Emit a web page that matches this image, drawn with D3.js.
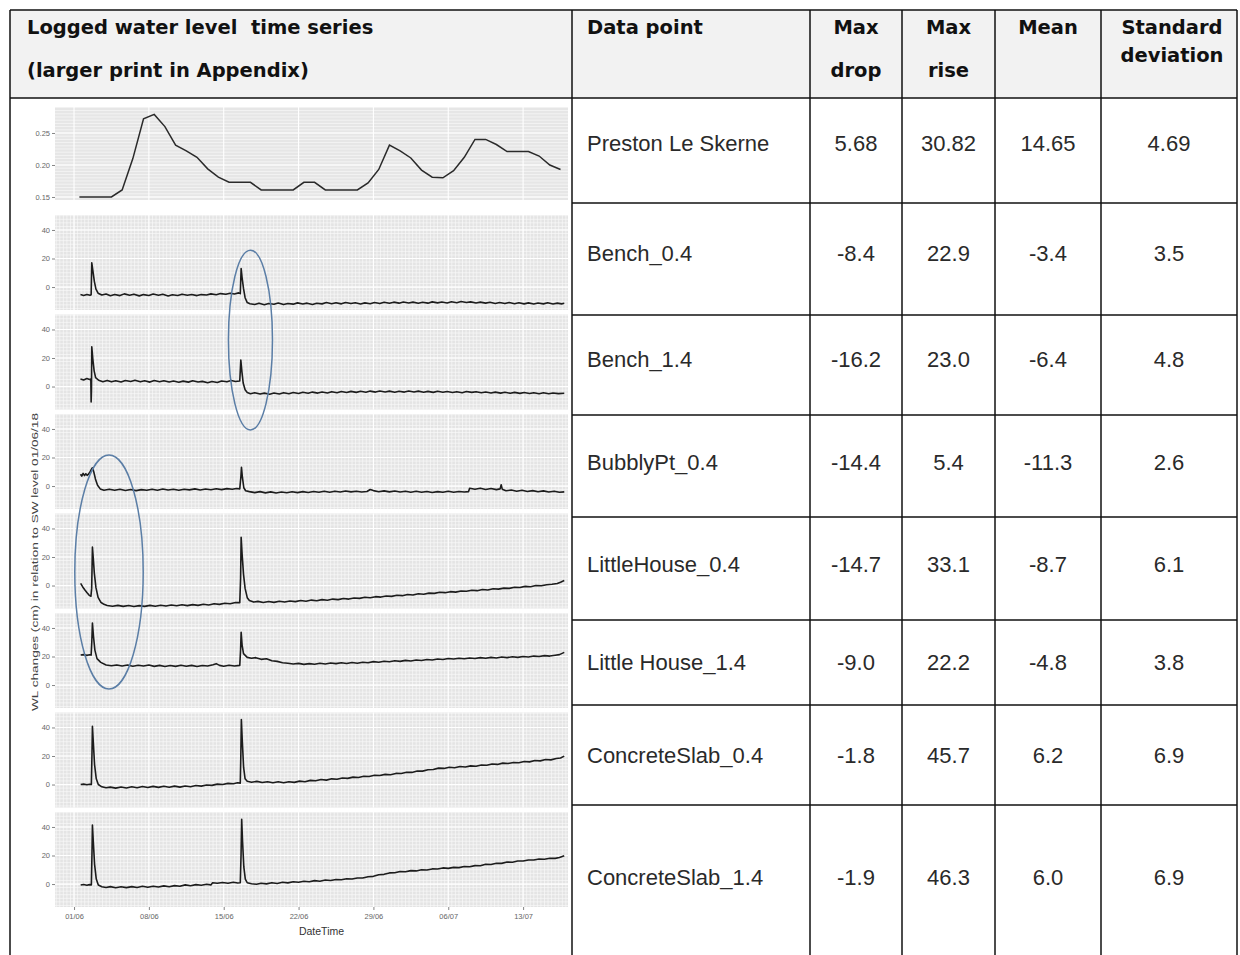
<!DOCTYPE html>
<html>
<head>
<meta charset="utf-8">
<script src="https://cdn.jsdelivr.net/npm/d3@7"></script>
<style>
  body { margin: 0; background: #fff; }
  svg { display: block; }
  text { white-space: pre; }
</style>
</head>
<body>
<svg id="fig" width="1240" height="955"></svg>
<script>
// ---------------- Table content ----------------
const headerLeft = ["Logged water level  time series", "(larger print in Appendix)"];
const headerCols = [["Data point"], ["Max", "drop"], ["Max", "rise"], ["Mean"], ["Standard", "deviation"]];
const siteNames = ["Preston Le Skerne", "Bench_0.4", "Bench_1.4", "BubblyPt_0.4",
                   "LittleHouse_0.4", "Little House_1.4", "ConcreteSlab_0.4", "ConcreteSlab_1.4"];
const maxDrop  = [5.68, -8.4, -16.2, -14.4, -14.7, -9.0, -1.8, -1.9];
const maxRise  = [30.82, 22.9, 23.0, 5.4, 33.1, 22.2, 45.7, 46.3];
const meanVal  = [14.65, -3.4, -6.4, -11.3, -8.7, -4.8, 6.2, 6.0];
const stdDev   = [4.69, 3.5, 4.8, 2.6, 6.1, 3.8, 6.9, 6.9];
const decimals = [2, 1, 1, 1, 1, 1, 1, 1];

// ---------------- Time series (x = days since 01/06) ----------------
const dateLabels = ["01/06", "08/06", "15/06", "22/06", "29/06", "06/07", "13/07"];
const dateTicks  = [0, 7, 14, 21, 28, 35, 42];

// River stage at Preston le Skerne (m), daily, days 0.5 .. 45.5
const prestonStage = [0.150,0.150,0.150,0.150,0.161,0.210,0.272,0.279,0.260,0.231,0.222,0.212,0.194,0.181,
  0.173,0.173,0.173,0.161,0.161,0.161,0.161,0.173,0.173,0.161,0.161,0.161,0.161,0.172,0.193,0.231,0.222,
  0.211,0.192,0.181,0.180,0.191,0.212,0.240,0.240,0.232,0.221,0.221,0.221,0.214,0.200,0.193];

const bench04 = [[0.6,-5.3],[0.9,-5.9],[1.2,-5.2],[1.5,-5.8],[1.6,-5.4],[1.66,17.0],[1.78,10.5],[1.9,4.0],
  [2.05,-1.5],[2.25,-4.3],[2.6,-5.6],[3.0,-4.9],[3.4,-6.1],[3.8,-5.2],[4.3,-6.0],[4.7,-4.8],[5.2,-5.7],
  [5.6,-5.0],[6.1,-6.2],[6.5,-5.3],[7.0,-5.9],[7.4,-4.9],[7.9,-5.8],[8.3,-5.1],[8.8,-6.3],[9.2,-5.4],
  [9.7,-5.9],[10.1,-5.0],[10.6,-5.7],[11.0,-5.2],[11.5,-6.0],[11.9,-5.3],[12.4,-5.6],[12.8,-4.8],[13.3,-5.4],
  [13.7,-4.6],[14.2,-5.1],[14.6,-4.3],[15.0,-4.9],[15.4,-4.1],[15.55,-4.6],[15.63,13.0],[15.72,6.5],
  [15.85,-1.0],[16.0,-7.5],[16.2,-10.9],[16.45,-11.7],[16.9,-12.2],[17.3,-11.3],[17.8,-12.4],[18.2,-11.6],
  [18.7,-12.1],[19.1,-11.2],[19.6,-12.3],[20.0,-11.5],[20.5,-12.0],[20.9,-11.1],[21.4,-11.9],[21.8,-11.3],
  [22.3,-12.2],[22.7,-11.4],[23.2,-11.8],[23.6,-10.9],[24.1,-11.7],[24.5,-11.0],[25.0,-11.8],[25.4,-10.8],
  [25.9,-11.6],[26.3,-11.0],[26.8,-11.9],[27.2,-11.1],[27.7,-11.7],[28.1,-10.9],[28.6,-11.6],[29.0,-10.7],
  [29.5,-11.4],[29.9,-10.6],[30.4,-11.3],[30.8,-10.5],[31.3,-11.2],[31.7,-10.6],[32.2,-11.4],[32.6,-10.7],
  [33.1,-11.3],[33.5,-10.4],[34.0,-11.1],[34.4,-10.5],[34.9,-11.2],[35.3,-10.3],[35.8,-11.0],[36.2,-10.2],
  [36.7,-10.9],[37.1,-10.4],[37.6,-11.2],[38.0,-10.6],[38.5,-11.3],[38.9,-10.7],[39.4,-11.5],[39.8,-10.9],
  [40.3,-11.6],[40.7,-10.8],[41.2,-11.7],[41.6,-11.0],[42.1,-11.8],[42.5,-11.1],[43.0,-11.9],[43.4,-11.2],
  [43.9,-11.8],[44.3,-11.0],[44.8,-11.9],[45.2,-11.3],[45.6,-11.8],[45.85,-11.4]];

const bench14 = [[0.6,5.3],[0.9,4.6],[1.2,5.6],[1.45,4.9],[1.57,5.2],[1.6,-10.8],[1.63,-3.0],[1.66,27.8],
  [1.76,19.0],[1.88,11.0],[2.02,6.2],[2.3,4.4],[2.7,3.4],[3.1,4.3],[3.5,3.3],[3.9,4.1],[4.4,3.2],[4.8,4.2],
  [5.3,3.5],[5.7,4.4],[6.2,3.3],[6.6,4.0],[7.1,3.1],[7.5,4.2],[8.0,3.4],[8.4,4.1],[8.9,3.2],[9.3,3.9],
  [9.8,3.0],[10.2,3.8],[10.7,3.1],[11.1,4.0],[11.6,3.2],[12.0,3.6],[12.5,2.7],[12.9,3.5],[13.4,2.8],
  [13.8,3.9],[14.3,3.3],[14.7,4.2],[15.1,3.5],[15.5,3.9],[15.6,18.5],[15.7,10.5],[15.82,2.5],[16.0,-2.3],
  [16.2,-4.2],[16.5,-5.0],[16.9,-4.4],[17.4,-5.3],[17.8,-4.6],[18.3,-5.4],[18.7,-4.5],[19.2,-5.2],[19.6,-4.3],
  [20.1,-5.0],[20.5,-4.2],[21.0,-4.9],[21.4,-4.0],[21.9,-4.7],[22.3,-3.9],[22.8,-4.6],[23.2,-3.8],[23.7,-4.5],
  [24.1,-3.6],[24.6,-4.4],[25.0,-3.5],[25.5,-4.2],[25.9,-3.4],[26.4,-4.1],[26.8,-3.3],[27.3,-4.0],[27.7,-3.2],
  [28.2,-3.9],[28.6,-3.1],[29.1,-3.8],[29.5,-3.2],[30.0,-4.0],[30.4,-3.3],[30.9,-3.9],[31.3,-3.1],[31.8,-3.8],
  [32.2,-3.2],[32.7,-4.0],[33.1,-3.4],[33.6,-4.1],[34.0,-3.3],[34.5,-4.0],[34.9,-3.5],[35.4,-4.2],[35.8,-3.6],
  [36.3,-4.3],[36.7,-3.5],[37.2,-4.1],[37.6,-3.6],[38.1,-4.4],[38.5,-3.8],[39.0,-4.5],[39.4,-3.9],[39.9,-4.6],
  [40.3,-4.0],[40.8,-4.7],[41.2,-4.1],[41.7,-4.8],[42.1,-4.2],[42.6,-4.9],[43.0,-4.3],[43.5,-5.0],[43.9,-4.4],
  [44.4,-5.1],[44.8,-4.5],[45.3,-5.0],[45.85,-4.7]];

const bubbly04 = [[0.6,8.2],[0.72,7.0],[0.85,8.9],[0.98,7.3],[1.1,8.6],[1.22,7.5],[1.35,8.4],[1.48,9.6],
  [1.6,11.4],[1.72,12.8],[1.85,9.8],[2.0,5.0],[2.2,0.6],[2.45,-2.0],[2.8,-2.9],[3.3,-2.2],[3.8,-3.0],[4.3,-2.3],
  [4.8,-3.1],[5.3,-2.4],[5.8,-3.2],[6.3,-2.5],[6.8,-3.0],[7.3,-2.2],[7.8,-2.9],[8.3,-2.1],[8.8,-2.8],[9.3,-2.3],
  [9.8,-3.0],[10.3,-2.2],[10.8,-2.7],[11.3,-2.0],[11.8,-2.8],[12.3,-2.1],[12.8,-2.6],[13.3,-1.9],[13.8,-2.5],
  [14.3,-1.8],[14.8,-2.3],[15.2,-1.7],[15.5,-2.0],[15.6,6.0],[15.66,13.1],[15.75,6.0],[15.88,-1.2],[16.05,-3.3],
  [16.4,-3.9],[16.9,-4.6],[17.4,-3.9],[17.9,-4.8],[18.4,-4.1],[18.9,-4.9],[19.4,-4.2],[19.9,-4.7],[20.4,-4.0],
  [20.9,-4.6],[21.4,-3.9],[21.9,-4.5],[22.4,-3.8],[22.9,-4.4],[23.4,-3.7],[23.9,-4.3],[24.4,-3.6],[24.9,-4.2],
  [25.4,-3.5],[25.9,-4.1],[26.4,-3.6],[26.9,-4.2],[27.4,-3.8],[27.7,-2.4],[28.0,-3.2],[28.5,-4.0],[29.0,-3.4],
  [29.5,-4.1],[30.0,-3.5],[30.5,-4.2],[31.0,-3.6],[31.5,-4.3],[32.0,-3.7],[32.5,-4.4],[33.0,-3.8],[33.5,-4.5],
  [34.0,-3.9],[34.5,-4.4],[35.0,-3.7],[35.5,-4.3],[36.0,-3.8],[36.5,-4.2],[36.9,-3.9],[37.0,-1.6],[37.5,-2.3],
  [38.0,-1.5],[38.5,-2.4],[39.0,-1.7],[39.5,-2.5],[39.85,-2.0],[39.95,0.9],[40.05,-2.2],[40.4,-3.3],[40.9,-2.8],
  [41.4,-3.6],[41.9,-3.0],[42.4,-3.8],[42.9,-3.2],[43.4,-4.0],[43.9,-3.4],[44.4,-4.2],[44.9,-3.6],[45.4,-4.4],
  [45.85,-4.1]];

const littleHouse04 = [[0.62,1.5],[0.8,-0.8],[1.0,-3.0],[1.2,-4.9],[1.4,-6.7],[1.58,-7.5],[1.65,-2.0],
  [1.72,26.9],[1.8,19.0],[1.9,8.5],[2.05,-1.5],[2.25,-8.3],[2.5,-11.7],[2.8,-13.2],[3.1,-14.0],[3.6,-14.5],
  [4.1,-13.9],[4.6,-14.6],[5.1,-14.0],[5.6,-14.7],[6.1,-14.1],[6.6,-14.6],[7.1,-13.9],[7.6,-14.5],[8.1,-13.8],
  [8.6,-14.4],[9.1,-13.7],[9.6,-14.2],[10.1,-13.5],[10.6,-14.1],[11.1,-13.4],[11.6,-13.9],[12.1,-13.1],
  [12.6,-13.6],[13.1,-12.8],[13.6,-13.2],[14.1,-12.4],[14.6,-12.8],[15.1,-11.9],[15.5,-12.0],[15.58,5.0],
  [15.63,33.9],[15.72,22.0],[15.85,8.0],[16.0,-2.0],[16.2,-8.5],[16.4,-10.5],[16.8,-11.6],[17.2,-11.1],
  [17.7,-11.9],[18.2,-11.2],[18.7,-11.8],[19.2,-11.0],[19.7,-11.6],[20.2,-10.8],[20.7,-11.3],[21.2,-10.5],
  [21.7,-11.0],[22.2,-10.2],[22.7,-10.7],[23.2,-9.9],[23.7,-10.3],[24.2,-9.5],[24.7,-9.9],[25.2,-9.1],
  [25.7,-9.5],[26.2,-8.7],[26.7,-9.0],[27.2,-8.2],[27.7,-8.6],[28.2,-7.8],[28.7,-8.1],[29.2,-7.3],[29.7,-7.6],
  [30.2,-6.8],[30.7,-7.1],[31.2,-6.3],[31.7,-6.6],[32.2,-5.8],[32.7,-6.1],[33.2,-5.3],[33.7,-5.5],[34.2,-4.7],
  [34.7,-5.0],[35.2,-4.3],[35.7,-4.6],[36.2,-3.8],[36.7,-4.0],[37.2,-3.3],[37.7,-3.6],[38.2,-2.8],[38.7,-3.1],
  [39.2,-2.3],[39.7,-2.5],[40.2,-1.8],[40.7,-2.0],[41.2,-1.2],[41.7,-1.4],[42.2,-0.6],[42.7,-0.8],[43.2,0.0],
  [43.7,-0.2],[44.2,0.6],[44.7,0.9],[45.2,1.4],[45.5,2.3],[45.85,3.5]];

const littleHouse14 = [[0.62,21.0],[0.9,21.3],[1.2,20.8],[1.45,21.2],[1.6,21.0],[1.66,30.0],[1.72,43.5],
  [1.82,34.0],[1.95,24.5],[2.15,18.5],[2.5,15.9],[3.0,14.0],[3.5,13.5],[4.0,14.1],[4.5,13.4],[5.0,14.0],
  [5.5,13.2],[6.0,13.9],[6.5,13.3],[7.0,14.0],[7.5,13.1],[8.0,13.8],[8.5,13.0],[9.0,13.7],[9.5,13.1],
  [10.0,13.9],[10.5,13.2],[11.0,13.8],[11.5,13.0],[12.0,13.7],[12.5,13.3],[13.0,14.2],[13.3,15.0],[13.6,13.8],
  [14.0,13.2],[14.5,13.9],[15.0,13.3],[15.5,13.8],[15.58,25.0],[15.63,37.0],[15.72,28.0],[15.85,22.0],
  [16.2,19.4],[16.6,18.8],[17.0,19.2],[17.5,18.0],[18.0,18.4],[18.5,17.0],[19.0,16.6],[19.5,15.6],[20.0,15.3],
  [20.5,14.7],[21.0,15.2],[21.5,14.5],[22.0,15.0],[22.5,14.6],[23.0,15.3],[23.5,14.8],[24.0,15.5],[24.5,15.0],
  [25.0,15.6],[25.5,15.1],[26.0,15.8],[26.5,15.3],[27.0,16.0],[27.5,15.6],[28.0,16.4],[28.5,16.0],[29.0,16.7],
  [29.5,16.3],[30.0,17.0],[30.5,16.6],[31.0,17.3],[31.5,16.9],[32.0,17.6],[32.5,17.2],[33.0,17.9],[33.5,17.6],
  [34.0,18.3],[34.5,17.9],[35.0,18.6],[35.5,18.2],[36.0,18.8],[36.5,18.4],[37.0,19.0],[37.5,18.6],[38.0,19.2],
  [38.5,18.8],[39.0,19.4],[39.5,19.0],[40.0,19.6],[40.5,19.2],[41.0,19.8],[41.5,19.4],[42.0,20.0],[42.5,19.7],
  [43.0,20.3],[43.5,20.0],[44.0,20.6],[44.5,20.3],[45.0,20.9],[45.4,21.3],[45.85,22.9]];

const concrete04 = [[0.62,0.0],[0.9,0.3],[1.2,-0.2],[1.45,0.2],[1.62,0.0],[1.68,22.0],[1.72,40.9],[1.8,30.0],
  [1.92,14.0],[2.08,4.0],[2.27,0.0],[2.6,-1.6],[3.0,-2.3],[3.4,-1.8],[3.9,-2.5],[4.4,-1.7],[4.9,-2.4],[5.4,-1.6],
  [5.9,-2.2],[6.4,-1.4],[6.9,-2.1],[7.4,-1.3],[7.9,-2.0],[8.4,-1.2],[8.9,-1.9],[9.4,-1.1],[9.9,-1.8],[10.4,-1.0],
  [10.9,-1.5],[11.4,-0.7],[11.9,-1.1],[12.4,-0.3],[12.9,-0.6],[13.4,0.3],[13.9,0.0],[14.4,0.8],[14.9,0.5],
  [15.3,1.2],[15.55,1.0],[15.6,20.0],[15.65,45.6],[15.74,30.0],[15.86,12.0],[16.0,4.0],[16.2,2.3],[16.6,1.6],
  [17.1,2.2],[17.6,1.4],[18.1,2.0],[18.6,1.3],[19.1,1.9],[19.6,1.2],[20.1,2.0],[20.6,1.5],[21.1,2.4],[21.6,2.0],
  [22.1,2.9],[22.6,2.6],[23.1,3.5],[23.6,3.1],[24.1,4.0],[24.6,3.7],[25.1,4.6],[25.6,4.3],[26.1,5.2],[26.6,4.9],
  [27.1,5.8],[27.6,5.6],[28.1,6.5],[28.6,6.3],[29.1,7.1],[29.6,6.9],[30.1,7.8],[30.6,7.7],[31.1,8.6],[31.6,8.5],
  [32.1,9.5],[32.6,9.4],[33.1,10.4],[33.6,10.5],[34.1,11.5],[34.6,11.3],[35.1,12.1],[35.6,11.8],[36.1,12.6],
  [36.6,12.3],[37.1,13.1],[37.6,12.8],[38.1,13.7],[38.6,13.5],[39.1,14.4],[39.6,14.1],[40.1,15.0],[40.6,14.7],
  [41.1,15.5],[41.6,15.3],[42.1,16.1],[42.6,15.9],[43.1,16.8],[43.6,16.6],[44.1,17.5],[44.6,17.3],[45.1,18.3],
  [45.5,18.6],[45.85,19.9]];

const concrete14 = [[0.62,-0.7],[0.9,-0.3],[1.2,-0.9],[1.45,-0.4],[1.62,-0.6],[1.68,22.0],[1.72,41.4],
  [1.8,30.0],[1.92,14.0],[2.08,3.5],[2.27,-0.7],[2.6,-1.9],[3.0,-2.4],[3.4,-1.8],[3.9,-2.6],[4.4,-1.9],[4.9,-2.5],
  [5.4,-1.8],[5.9,-2.4],[6.4,-1.6],[6.9,-2.2],[7.4,-1.5],[7.9,-2.1],[8.4,-1.3],[8.9,-1.9],[9.4,-1.1],[9.9,-1.6],
  [10.4,-0.6],[10.9,-1.2],[11.4,-0.4],[11.9,-0.9],[12.4,-0.2],[12.8,-0.6],[12.96,0.9],[13.4,0.5],[13.9,1.1],
  [14.4,0.6],[14.9,1.2],[15.3,0.7],[15.55,0.9],[15.62,20.0],[15.68,45.4],[15.76,30.0],[15.88,12.0],[16.02,3.5],
  [16.2,0.9],[16.6,0.2],[17.07,-0.2],[17.5,0.6],[18.0,0.1],[18.5,0.9],[19.0,0.4],[19.5,1.2],[20.0,0.8],[20.5,1.6],
  [21.0,1.2],[21.5,2.0],[22.0,1.6],[22.5,2.4],[23.0,2.0],[23.5,2.8],[24.0,2.5],[24.5,3.2],[25.0,3.0],[25.5,3.7],
  [26.0,3.5],[26.5,4.2],[27.0,4.2],[27.5,5.1],[28.0,5.4],[28.5,6.5],[29.0,6.8],[29.5,7.8],[30.0,7.9],[30.5,8.8],
  [31.0,8.6],[31.5,9.4],[32.0,9.2],[32.5,10.0],[33.0,9.8],[33.5,10.6],[34.0,10.5],[34.5,11.3],[35.0,11.0],
  [35.5,11.7],[36.0,11.5],[36.5,12.3],[37.0,12.1],[37.5,12.9],[38.0,12.8],[38.5,13.8],[39.0,13.7],[39.5,14.6],
  [40.0,14.5],[40.5,15.4],[41.0,15.3],[41.5,16.2],[42.0,16.1],[42.5,16.9],[43.0,16.8],[43.5,17.5],[44.0,17.4],
  [44.5,18.1],[45.0,18.0],[45.4,18.6],[45.85,19.8]];

const wellSeries = [bench04, bench14, bubbly04, littleHouse04, littleHouse14, concrete04, concrete14];
const wlTicks = [0, 20, 40];
const stageTicks = [0.15, 0.20, 0.25];

// Hand-drawn ellipses highlighting the two responses (panel index, day, value, radii in days / cm)
const highlights = [
  { panel: 1, day: 16.5, value: 32.6, rDays: 2.06, rCm: 63 },
  { panel: 3, day: 3.27, value: 9.5, rDays: 3.2, rCm: 82 }
];

// ---------------- Layout ----------------
const svg = d3.select("#fig");
const tableL = 10, tableR = 1237, tableT = 10, headB = 98, tableB = 955;
const colX = [572, 810, 902, 995, 1101];
const rowLines = [203, 315, 415, 517, 620, 705, 805];
const rowTextY = [143, 253, 359, 462, 564, 662, 755, 877];

const plotL = 55, plotR = 568;
const x = d3.scaleLinear().domain([-1.78, 46.2]).range([plotL, plotR]);

const tickFont = "Liberation Sans, Arial, sans-serif";

// header background
svg.append("rect").attr("x", tableL).attr("y", tableT)
  .attr("width", tableR - tableL).attr("height", headB - tableT).attr("fill", "#f2f2f2");

// ---------------- Small-multiple plots ----------------
const plots = svg.append("g");

function meshGrid(g, top, bottom, yScale, yStep, yDomain, xStep) {
  const grid = g.append("g").attr("stroke", "#fff").attr("stroke-width", 0.7).attr("opacity", 0.8);
  grid.selectAll("line.h").data(d3.range(Math.ceil(yDomain[0] / yStep) * yStep, yDomain[1], yStep))
    .join("line").attr("x1", plotL).attr("x2", plotR)
    .attr("y1", d => yScale(d)).attr("y2", d => yScale(d));
  if (xStep) {
    grid.selectAll("line.v").data(d3.range(-1.6667, 46.2, xStep))
      .join("line").attr("y1", top).attr("y2", bottom)
      .attr("x1", d => x(d)).attr("x2", d => x(d));
  }
  const major = g.append("g").attr("stroke", "#fff").attr("stroke-width", 1.1);
  major.selectAll("line").data(dateTicks).join("line")
    .attr("y1", top).attr("y2", bottom).attr("x1", d => x(d)).attr("x2", d => x(d));
}

function styleAxis(ax) {
  ax.select(".domain").remove();
  ax.selectAll(".tick line").attr("stroke", "#666").attr("stroke-width", 0.8);
  ax.selectAll(".tick text").attr("fill", "#666").attr("font-size", 7.5).attr("font-family", tickFont);
}

// Top panel: river stage
const stageTop = 107, stageBottom = 200;
const yStage = d3.scaleLinear().domain([0.1453, 0.2906]).range([stageBottom, stageTop]);
const gStage = plots.append("g");
gStage.append("rect").attr("x", plotL).attr("y", stageTop).attr("width", plotR - plotL)
  .attr("height", stageBottom - stageTop).attr("fill", "#e6e6e6");
meshGrid(gStage, stageTop, stageBottom, yStage, 0.005, yStage.domain(), null);
gStage.append("g").attr("stroke", "#fff").attr("stroke-width", 1.2)
  .selectAll("line").data(stageTicks).join("line")
  .attr("x1", plotL).attr("x2", plotR).attr("y1", d => yStage(d)).attr("y2", d => yStage(d));
gStage.append("path")
  .datum(prestonStage.map((v, i) => [i + 0.5, v]))
  .attr("fill", "none").attr("stroke", "#2a2a2a").attr("stroke-width", 1.5)
  .attr("d", d3.line().x(d => x(d[0])).y(d => yStage(d[1])));
styleAxis(gStage.append("g").attr("transform", `translate(${plotL},0)`)
  .call(d3.axisLeft(yStage).tickValues(stageTicks).tickFormat(d3.format(".2f")).tickSize(3).tickPadding(2)));

// Lower panels: logged water level changes
const panelTop0 = 215, panelStep = 99.5, panelH = 95;
const yPanels = wellSeries.map((s, i) => {
  const top = panelTop0 + i * panelStep;
  return d3.scaleLinear().domain([-16.1, 50.5]).range([top + panelH, top]);
});

wellSeries.forEach((series, i) => {
  const top = panelTop0 + i * panelStep, bottom = top + panelH;
  const y = yPanels[i];
  const g = plots.append("g");
  g.append("rect").attr("x", plotL).attr("y", top).attr("width", plotR - plotL)
    .attr("height", panelH).attr("fill", "#e4e4e4");
  meshGrid(g, top, bottom, y, 2.5, y.domain(), 1 / 3);
  g.append("g").attr("stroke", "#fff").attr("stroke-width", 1.2)
    .selectAll("line").data(wlTicks).join("line")
    .attr("x1", plotL).attr("x2", plotR).attr("y1", d => y(d)).attr("y2", d => y(d));
  g.append("path").datum(series)
    .attr("fill", "none").attr("stroke", "#1c1c1c").attr("stroke-width", 1.6)
    .attr("stroke-linejoin", "round")
    .attr("d", d3.line().x(d => x(d[0])).y(d => y(d[1])));
  styleAxis(g.append("g").attr("transform", `translate(${plotL},0)`)
    .call(d3.axisLeft(y).tickValues(wlTicks).tickSize(3).tickPadding(2)));
});

// Date axis under the last panel
const lastBottom = panelTop0 + (wellSeries.length - 1) * panelStep + panelH;
const xAx = plots.append("g").attr("transform", `translate(0,${lastBottom})`)
  .call(d3.axisBottom(x).tickValues(dateTicks).tickFormat((d, i) => dateLabels[i]).tickSize(3).tickPadding(4));
styleAxis(xAx);

plots.append("text").attr("x", (plotL + plotR) / 2 + 10).attr("y", lastBottom + 28)
  .attr("text-anchor", "middle").attr("font-family", tickFont).attr("font-size", 10.5)
  .attr("fill", "#333").text("DateTime");

plots.append("text")
  .attr("transform", `translate(38,562) rotate(-90)`)
  .attr("text-anchor", "middle").attr("font-family", tickFont).attr("font-size", 9.5)
  .attr("textLength", 298).attr("lengthAdjust", "spacingAndGlyphs")
  .attr("fill", "#444").text("WL changes (cm) in relation to SW level 01/06/18");

// Highlight ellipses
plots.append("g").selectAll("ellipse").data(highlights).join("ellipse")
  .attr("cx", d => x(d.day)).attr("cy", d => yPanels[d.panel](d.value))
  .attr("rx", d => x(d.day + d.rDays) - x(d.day))
  .attr("ry", d => yPanels[d.panel](0) - yPanels[d.panel](d.rCm))
  .attr("fill", "none").attr("stroke", "#5b7ea6").attr("stroke-width", 1.5);

// ---------------- Table grid & text ----------------
const grid = svg.append("g").attr("stroke", "#111").attr("stroke-width", 1.5);
grid.append("line").attr("x1", tableL).attr("x2", tableR).attr("y1", tableT).attr("y2", tableT);
grid.append("line").attr("x1", tableL).attr("x2", tableR).attr("y1", headB).attr("y2", headB);
grid.append("line").attr("x1", tableL).attr("x2", tableL).attr("y1", tableT).attr("y2", tableB);
grid.append("line").attr("x1", tableR).attr("x2", tableR).attr("y1", tableT).attr("y2", tableB);
grid.selectAll("line.col").data(colX).join("line")
  .attr("x1", d => d).attr("x2", d => d).attr("y1", tableT).attr("y2", tableB);
grid.selectAll("line.row").data(rowLines).join("line")
  .attr("x1", colX[0]).attr("x2", tableR).attr("y1", d => d).attr("y2", d => d);

const headFont = "DejaVu Sans, Verdana, sans-serif";
const head = svg.append("g").attr("font-family", headFont).attr("font-weight", "bold")
  .attr("font-size", 19.5).attr("fill", "#111");
const headBase = [34, 77];
headerLeft.forEach((t, i) => head.append("text").attr("x", 27).attr("y", headBase[i]).text(t));
head.append("text").attr("x", 587).attr("y", 34).text(headerCols[0][0]);
const colCenters = [(colX[1] + colX[2]) / 2, (colX[2] + colX[3]) / 2, (colX[3] + colX[4]) / 2, (colX[4] + tableR) / 2];
headerCols.slice(1).forEach((lines, k) => {
  lines.forEach((t, j) => {
    const yy = lines.length === 2 && k === 3 ? [34, 62][j] : headBase[j];
    head.append("text").attr("x", colCenters[k] + (k === 3 ? 3 : 0)).attr("y", yy)
      .attr("text-anchor", "middle").text(t);
  });
});

const body = svg.append("g").attr("font-family", "Liberation Sans, Arial, sans-serif")
  .attr("font-size", 22).attr("fill", "#2a2a2a");
siteNames.forEach((name, i) => {
  const yy = rowTextY[i];
  body.append("text").attr("x", 587).attr("y", yy).attr("dy", "0.36em").text(name);
  const f = d3.format(`.${decimals[i]}f`);
  [maxDrop[i], maxRise[i], meanVal[i], stdDev[i]].forEach((v, k) => {
    body.append("text").attr("x", colCenters[k]).attr("y", yy).attr("dy", "0.36em")
      .attr("text-anchor", "middle").text(f(v).replace("\u2212", "-"));
  });
});
</script>
</body>
</html>
